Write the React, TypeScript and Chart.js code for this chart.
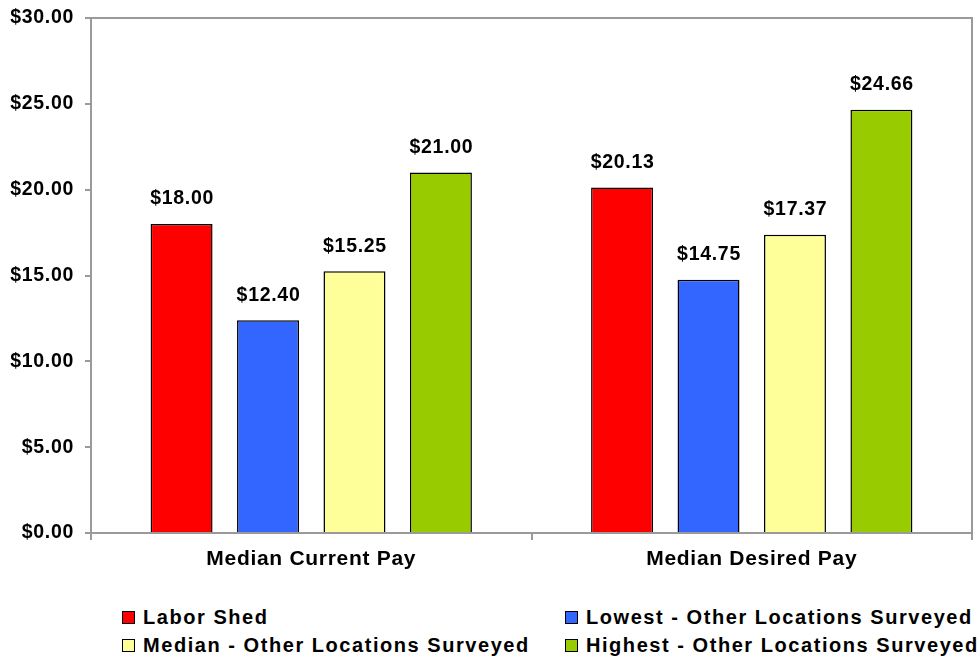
import React, { useEffect, useRef } from "react";
import { Chart, registerables } from "chart.js";

Chart.register(...registerables);

const categories = ["Median Current Pay", "Median Desired Pay"];
const seriesNames = [
  "Labor Shed",
  "Lowest - Other Locations Surveyed",
  "Median - Other Locations Surveyed",
  "Highest - Other Locations Surveyed",
];
const laborShed = [18.0, 20.13];
const lowestOther = [12.4, 14.75];
const medianOther = [15.25, 17.37];
const highestOther = [21.0, 24.66];
const seriesColors = ["#FF0000", "#3366FF", "#FFFF99", "#99CC00"];
const yMin = 0;
const yMax = 30;
const yStep = 5;

const FONT = "'Liberation Sans', Arial, sans-serif";
const SPACING = "0.7px";
const LEGEND_SPACING = "1.55px";
const AXIS_GRAY = "#9a9a9a";

const fmt = (v: number) => "$" + v.toFixed(2);

const spacingPlugin = {
  id: "spacing",
  beforeUpdate(chart: any) {
    chart.ctx.letterSpacing = SPACING;
  },
  beforeLayout(chart: any) {
    chart.ctx.letterSpacing = SPACING;
  },
  beforeDraw(chart: any) {
    chart.ctx.letterSpacing = SPACING;
  },
};

const framePlugin = {
  id: "frame",
  beforeDatasetsDraw(chart: any) {
    const { ctx, chartArea } = chart;
    ctx.save();
    ctx.strokeStyle = AXIS_GRAY;
    ctx.lineWidth = 2;
    ctx.strokeRect(
      chartArea.left,
      chartArea.top,
      chartArea.right - chartArea.left,
      chartArea.bottom - chartArea.top
    );
    ctx.restore();
  },
};

const valueLabelPlugin = {
  id: "valueLabels",
  afterDatasetsDraw(chart: any) {
    const { ctx } = chart;
    ctx.save();
    ctx.letterSpacing = SPACING;
    ctx.font = `bold 19.5px ${FONT}`;
    ctx.fillStyle = "#000";
    ctx.textAlign = "center";
    ctx.textBaseline = "middle";
    chart.data.datasets.forEach((ds: any, i: number) => {
      const meta = chart.getDatasetMeta(i);
      meta.data.forEach((el: any, j: number) => {
        ctx.fillText(fmt(ds.data[j]), el.x + 0.5, el.y - 25);
      });
    });
    ctx.restore();
  },
};

export default function App() {
  const canvasRef = useRef<HTMLCanvasElement | null>(null);

  useEffect(() => {
    const canvas = canvasRef.current;
    if (!canvas) return;
    const seriesData = [laborShed, lowestOther, medianOther, highestOther];
    const chart = new Chart(canvas, {
      type: "bar",
      data: {
        labels: categories,
        datasets: seriesNames.map((name, i) => ({
          label: name,
          data: seriesData[i],
          backgroundColor: seriesColors[i],
          borderColor: "#000000",
          borderWidth: 1.5,
          categoryPercentage: 0.785,
          barPercentage: 0.717,
        })),
      },
      options: {
        animation: false,
        responsive: false,
        maintainAspectRatio: false,
        devicePixelRatio: 1,
        layout: { padding: { top: 18, right: 5, left: 0, bottom: 0 } },
        plugins: {
          legend: { display: false },
          tooltip: { enabled: false },
        },
        scales: {
          x: {
            afterFit(scale: any) {
              scale.height = 57;
              scale.paddingLeft = 0;
              scale.paddingRight = 0;
            },
            grid: {
              display: true,
              drawOnChartArea: false,
              drawTicks: true,
              tickLength: 7,
              color: AXIS_GRAY,
              lineWidth: 2,
              offset: true,
            },
            border: { color: AXIS_GRAY, width: 2 },
            ticks: {
              color: "#000",
              font: { family: FONT, size: 21, weight: "bold" },
              padding: 7,
              maxRotation: 0,
            },
          },
          y: {
            min: yMin,
            max: yMax,
            afterFit(scale: any) {
              scale.width = 91;
              scale.paddingTop = 0;
              scale.paddingBottom = 0;
            },
            grid: {
              display: true,
              drawOnChartArea: false,
              drawTicks: true,
              tickLength: 6,
              color: AXIS_GRAY,
              lineWidth: 2,
            },
            border: { color: AXIS_GRAY, width: 2 },
            ticks: {
              stepSize: yStep,
              color: "#000",
              font: { family: FONT, size: 19.5, weight: "bold" },
              padding: 11,
              callback: (v: any) => fmt(Number(v)),
            },
          },
        },
      },
      plugins: [spacingPlugin, framePlugin, valueLabelPlugin],
    } as any);
    return () => chart.destroy();
  }, []);

  const legendItem = (i: number) => (
    <div key={i} style={{ display: "flex", alignItems: "center", height: 28 }}>
      <span
        style={{
          display: "inline-block",
          width: 11,
          height: 11,
          border: "1.5px solid #000",
          background: seriesColors[i],
          marginRight: 8,
        }}
      />
      <span>{seriesNames[i]}</span>
    </div>
  );

  const legendColStyle: React.CSSProperties = {
    position: "absolute",
    top: 603,
    fontFamily: FONT,
    fontWeight: "bold",
    fontSize: 20,
    letterSpacing: LEGEND_SPACING,
    color: "#000",
    lineHeight: "28px",
    whiteSpace: "nowrap",
  };

  return (
    <div
      style={{
        position: "fixed",
        left: 0,
        top: 0,
        width: 977,
        height: 656,
        background: "#fff",
        overflow: "hidden",
      }}
    >
      <canvas
        ref={canvasRef}
        width={977}
        height={590}
        style={{ position: "absolute", left: 0, top: 0, width: 977, height: 590 }}
      />
      <div style={{ ...legendColStyle, left: 122 }}>
        {legendItem(0)}
        {legendItem(2)}
      </div>
      <div style={{ ...legendColStyle, left: 565 }}>
        {legendItem(1)}
        {legendItem(3)}
      </div>
    </div>
  );
}
